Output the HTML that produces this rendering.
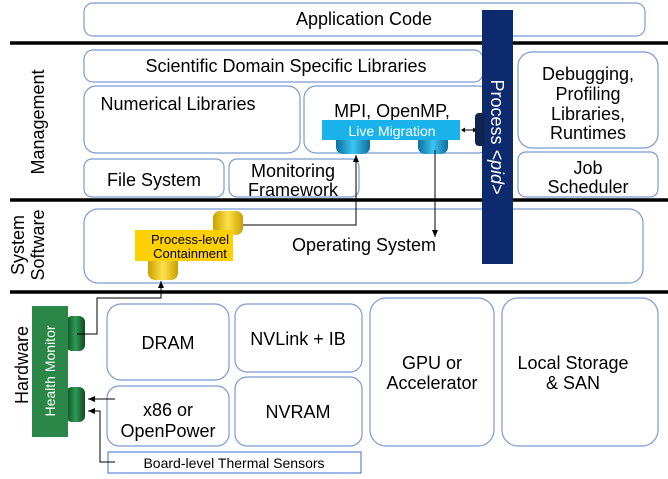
<!DOCTYPE html>
<html><head><meta charset="utf-8"><style>
html,body{margin:0;padding:0;background:#fff;}
svg{display:block;font-family:"Liberation Sans",Arial,sans-serif;}
</style></head><body>
<svg width="668" height="479" viewBox="0 0 668 479" xmlns="http://www.w3.org/2000/svg">
<defs>
<marker id="a" markerWidth="8" markerHeight="8" refX="7" refY="4" orient="auto" markerUnits="userSpaceOnUse"><path d="M0,1 L7,4 L0,7 z" fill="#000"/></marker>
<linearGradient id="gb" x1="0" x2="1"><stop offset="0" stop-color="#0b6f9e"/><stop offset="0.5" stop-color="#3cc4f0"/><stop offset="1" stop-color="#0b6f9e"/></linearGradient>
<linearGradient id="gy" x1="0" x2="1"><stop offset="0" stop-color="#c9a000"/><stop offset="0.5" stop-color="#ffe14a"/><stop offset="1" stop-color="#c9a000"/></linearGradient>
<linearGradient id="gg" x1="0" x2="1"><stop offset="0" stop-color="#0e4a22"/><stop offset="0.5" stop-color="#2f9a55"/><stop offset="1" stop-color="#0e4a22"/></linearGradient>
</defs>
<g fill="#fff" stroke="#7a9ccf" stroke-width="1.2">
<rect x="84" y="3" width="561" height="33" rx="9"/>
<rect x="84" y="50" width="399" height="32" rx="9"/>
<rect x="84" y="86" width="216" height="67" rx="12"/>
<rect x="304" y="86" width="186" height="67" rx="12"/>
<rect x="518" y="52" width="140" height="96" rx="14"/>
<rect x="84" y="159" width="140" height="38" rx="8"/>
<rect x="229" y="159" width="130" height="38" rx="8"/>
<rect x="518" y="152" width="140" height="45" rx="8"/>
<rect x="84" y="209" width="559" height="74" rx="14"/>
<rect x="107" y="304" width="122" height="76" rx="14"/>
<rect x="235" y="304" width="127" height="68" rx="12"/>
<rect x="370" y="298" width="124" height="148" rx="16"/>
<rect x="502" y="298" width="156" height="148" rx="16"/>
<rect x="107" y="386" width="122" height="60" rx="12"/>
<rect x="235" y="377" width="127" height="69" rx="12"/>
</g>
<rect x="108" y="452" width="253" height="21" fill="#fff" stroke="#3a6fd0" stroke-width="1"/>
<g stroke="#000" stroke-width="3.5">
<line x1="10" y1="43" x2="668" y2="43"/>
<line x1="10" y1="200" x2="668" y2="200"/>
<line x1="10" y1="292" x2="668" y2="292"/>
</g>
<g font-size="18" fill="#000" text-anchor="middle">
<text x="364" y="25">Application Code</text>
<text x="286" y="72">Scientific Domain Specific Libraries</text>
<text x="178" y="110">Numerical Libraries</text>
<text x="392" y="117">MPI, OpenMP,</text>
<text x="588" y="80">Debugging,</text>
<text x="588" y="100">Profiling</text>
<text x="588" y="120">Libraries,</text>
<text x="588" y="139">Runtimes</text>
<text x="154" y="186">File System</text>
<text x="293" y="177">Monitoring</text>
<text x="293" y="196">Framework</text>
<text x="588" y="174">Job</text>
<text x="588" y="193">Scheduler</text>
<text x="364" y="251">Operating System</text>
<text x="168" y="349">DRAM</text>
<text x="298" y="345">NVLink + IB</text>
<text x="432" y="369">GPU or</text>
<text x="432" y="389">Accelerator</text>
<text x="573" y="369">Local Storage</text>
<text x="573" y="389">&amp; SAN</text>
<text x="168" y="416">x86 or</text>
<text x="168" y="437">OpenPower</text>
<text x="298" y="418">NVRAM</text>
</g>
<text x="234" y="468" font-size="14" text-anchor="middle">Board-level Thermal Sensors</text>
<g font-size="18" text-anchor="middle">
<text transform="translate(44,122) rotate(-90)">Management</text>
<text transform="translate(24,245) rotate(-90)">System</text>
<text transform="translate(44,245) rotate(-90)">Software</text>
<text transform="translate(28,365) rotate(-90)">Hardware</text>
</g>
<rect x="482" y="10" width="31" height="254" fill="#0d2a6e"/>
<text transform="translate(491,137) rotate(90)" font-size="18" fill="#fff" text-anchor="middle">Process <tspan font-style="italic">&lt;pid&gt;</tspan></text>
<rect x="475" y="113" width="10" height="33" rx="4" fill="#0f2550"/>
<rect x="336" y="134" width="34" height="20" rx="7" fill="url(#gb)"/>
<rect x="418" y="134" width="30" height="20" rx="7" fill="url(#gb)"/>
<rect x="322" y="120" width="138" height="20" fill="#19b2ea"/>
<text x="392" y="136" font-size="14" fill="#fff" text-anchor="middle">Live Migration</text>
<rect x="213" y="211" width="30" height="24" rx="7" fill="url(#gy)"/>
<rect x="148" y="255" width="30" height="25" rx="7" fill="url(#gy)"/>
<rect x="135" y="230" width="98" height="31" fill="#ffd000"/>
<text x="190" y="244" font-size="13" text-anchor="middle">Process-level</text>
<text x="190" y="258" font-size="13" text-anchor="middle">Containment</text>
<rect x="66" y="316" width="19" height="35" rx="6" fill="url(#gg)"/>
<rect x="66" y="387" width="19" height="35" rx="6" fill="url(#gg)"/>
<rect x="32" y="306" width="36" height="131" fill="#2a8748"/>
<text transform="translate(55,371) rotate(-90)" font-size="14" fill="#fff" text-anchor="middle">Health Monitor</text>
<g stroke="#000" stroke-width="1" fill="none">
<polyline points="243,225 356,225 356,155" marker-end="url(#a)"/>
<polyline points="435,150 435,237" marker-end="url(#a)"/>
<polyline points="77,334 97,334 97,298 161,298 161,281" marker-end="url(#a)"/>
<polyline points="115,399 88,399" marker-end="url(#a)"/>
<polyline points="115,462 100,462 100,411 88,411" marker-end="url(#a)"/>
<line x1="464" y1="130" x2="474" y2="130"/>
</g>
<path d="M461,130 l4,-2.5 v5 z M477,130 l-4,-2.5 v5 z" fill="#000"/>
</svg>
</body></html>
